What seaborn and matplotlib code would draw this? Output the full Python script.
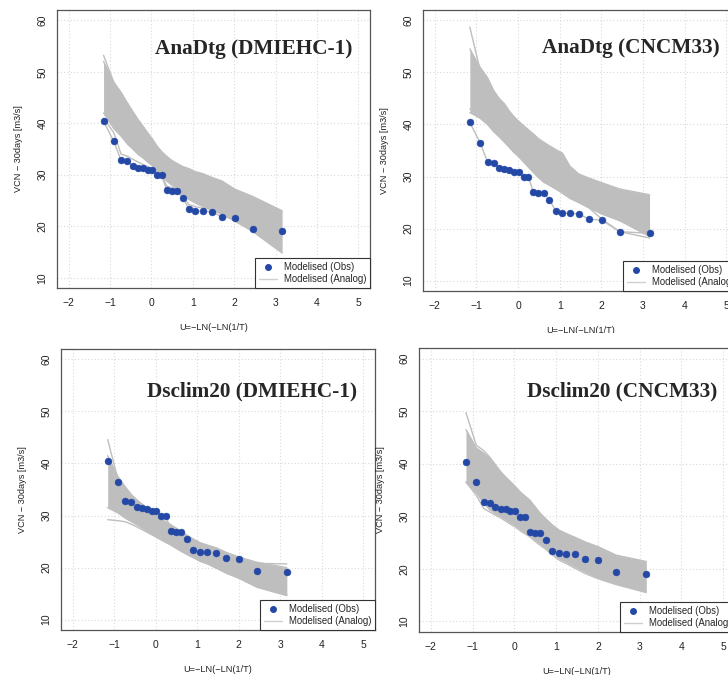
import numpy as np
import pandas as pd
import matplotlib
matplotlib.use("Agg")
import matplotlib.pyplot as plt
from matplotlib.patches import Rectangle
from matplotlib.lines import Line2D
import seaborn as sns

# ---------------- data ----------------
u_pos = [-1.156, -0.910, -0.732, -0.583, -0.450, -0.327, -0.209, -0.094, 0.019, 0.133,
         0.248, 0.367, 0.489, 0.618, 0.755, 0.903, 1.065, 1.246, 1.454, 1.702,
         2.013, 2.442, 3.157]
obs_vcn = [40.4, 36.5, 32.8, 32.6, 31.7, 31.4, 31.3, 30.95, 30.95, 29.9,
           29.9, 27.1, 26.9, 26.8, 25.55, 23.4, 23.0, 22.9, 22.85, 21.8,
           21.6, 19.4, 19.1]

titles = ["AnaDtg (DMIEHC-1)", "AnaDtg (CNCM33)", "Dsclim20 (DMIEHC-1)", "Dsclim20 (CNCM33)"]
title_y = [53.4, 53.7, 52.9, 52.8]

x_ticks = [-2, -1, 0, 1, 2, 3, 4, 5]
y_ticks = [10, 20, 30, 40, 50, 60]
legend_labels = ["Modelised (Obs)", "Modelised (Analog)"]
x_label = "U=\u2212LN(\u2212LN(1/T)"
y_label = "VCN \u2212 30days [m3/s]"

# Analog ensemble: upper / lower envelopes and individual members
hi1 = [52.0, 48.0, 46.0, 44.0, 42.3, 40.8, 39.5, 38.2, 37.0, 35.6, 34.5, 33.6, 32.8, 32.2,
       31.6, 31.2, 30.6, 30.2, 29.5, 28.8, 27.2, 25.8, 23.0]
lo1 = [42.0, 39.0, 37.5, 36.0, 35.0, 34.0, 33.3, 32.5, 31.8, 30.8, 30.0, 28.8, 28.0, 27.3,
       26.3, 25.2, 24.5, 23.8, 23.2, 22.3, 21.0, 19.0, 14.8]
m1a = [53.2, 48.0, 45.5, 43.8, 42.0, 40.5, 39.2, 38.0, 36.8, 35.5, 34.3, 33.4, 32.6, 32.0,
       31.4, 31.0, 30.4, 30.0, 29.4, 28.6, 27.0, 25.6, 22.8]
m1b = [41.0, 38.2, 34.0, 33.6, 33.0, 32.5, 32.0, 31.6, 31.2, 30.5, 30.0, 27.8, 27.5, 27.2,
       26.0, 24.2, 23.8, 23.5, 23.3, 22.6, 21.8, 19.8, 15.8]

hi2 = [54.5, 51.0, 49.0, 46.5, 45.0, 44.0, 42.6, 41.5, 40.6, 39.8, 39.0, 38.2, 37.3, 36.6,
       35.9, 35.2, 34.5, 32.0, 30.5, 29.7, 28.8, 27.6, 26.5]
lo2 = [42.3, 41.2, 40.0, 38.6, 37.6, 36.6, 35.6, 34.6, 33.8, 32.8, 31.8, 30.8, 29.8, 28.9,
       28.3, 27.6, 26.8, 25.8, 25.0, 24.0, 22.8, 21.5, 18.5]
m2a = [58.7, 50.5, 48.0, 46.0, 44.5, 43.5, 42.2, 41.0, 40.2, 39.4, 38.5, 37.8, 36.9, 36.2,
       35.5, 34.8, 34.2, 31.5, 30.2, 29.4, 28.5, 27.3, 26.2]
m2b = [43.0, 41.5, 40.2, 39.0, 38.0, 37.0, 36.0, 35.0, 34.2, 33.2, 32.2, 31.2, 30.2, 29.3,
       28.6, 27.8, 27.0, 26.0, 25.2, 24.0, 21.8, 19.4, 18.2]

hi3 = [41.5, 37.5, 35.5, 34.0, 33.0, 32.2, 31.4, 30.6, 30.0, 29.3, 28.8, 28.2, 27.6, 26.9,
       26.2, 25.5, 24.8, 24.3, 23.8, 22.9, 22.0, 21.0, 20.0]
lo3 = [31.5, 30.5, 29.5, 28.8, 28.2, 27.6, 27.0, 26.5, 26.0, 25.4, 24.9, 24.4, 23.8, 23.2,
       22.6, 22.0, 21.3, 20.8, 20.0, 19.0, 18.0, 16.3, 14.8]
m3a = [44.6, 37.0, 35.2, 33.8, 32.8, 32.0, 31.2, 30.5, 29.9, 29.2, 28.7, 28.1, 27.5, 26.8,
       26.1, 25.4, 24.7, 24.2, 23.7, 22.8, 21.1, 20.8, 20.7]
m3b = [29.2, 29.0, 28.8, 28.3, 27.8, 27.3, 26.8, 26.3, 25.8, 25.3, 24.8, 24.3, 23.7, 23.1,
       22.5, 21.9, 21.2, 20.7, 19.9, 18.9, 17.9, 16.2, 14.6]

hi4 = [46.5, 43.0, 42.0, 41.0, 39.5, 38.3, 37.3, 36.5, 35.6, 34.6, 33.8, 33.0, 31.8, 30.5,
       29.4, 28.3, 27.3, 26.6, 25.9, 25.0, 24.0, 22.5, 21.3]
lo4 = [36.5, 34.5, 32.5, 31.2, 30.5, 30.0, 29.4, 28.8, 28.3, 27.6, 27.0, 26.4, 25.6, 24.8,
       24.0, 23.0, 22.0, 21.3, 20.4, 19.4, 18.3, 17.2, 15.7]
m4a = [49.7, 43.5, 42.5, 41.2, 39.8, 38.5, 37.5, 36.6, 35.7, 34.7, 33.9, 33.1, 31.9, 30.6,
       29.5, 28.4, 27.4, 26.7, 26.0, 25.1, 24.2, 22.6, 21.4]
m4b = [36.5, 34.0, 31.5, 30.8, 30.2, 29.7, 29.1, 28.5, 28.0, 27.3, 26.7, 26.1, 25.3, 24.5,
       23.7, 22.7, 21.7, 21.0, 20.1, 19.1, 18.1, 17.0, 15.5]

upper = [hi1, hi2, hi3, hi4]
lower = [lo1, lo2, lo3, lo4]
members = [[hi1, lo1, m1a, m1b], [hi2, lo2, m2a, m2b], [hi3, lo3, m3a, m3b], [hi4, lo4, m4a, m4b]]

# ---------------- style ----------------
sns.set_style("white")
plt.rcParams["font.family"] = ["Liberation Sans", "DejaVu Sans"]

GREY = "#BEBEBE"
BLUE = "#2448A6"
FRAME = "#555555"

W, H = 728, 675
# axes boxes in pixels: left, top, right, bottom
boxes = [(57, 10, 370, 288), (423, 10, 738, 291), (61, 349, 375, 630), (419, 348, 735, 632)]

fig = plt.figure(figsize=(W / 100, H / 100), dpi=100)

axes = []
for i, (l, t, r, b) in enumerate(boxes):
    ax = fig.add_axes([l / W, 1 - b / H, (r - l) / W, (b - t) / H])
    ax.set_zorder(1 if i == 3 else 0)
    axes.append(ax)

for i, ax in enumerate(axes):
    ax.set_facecolor("white")
    # grid
    for xv in x_ticks:
        ax.axvline(xv, color="#DADADA", lw=0.8, ls=(0, (1, 2)), zorder=0)
    for yv in y_ticks:
        ax.axhline(yv, color="#DADADA", lw=0.8, ls=(0, (1, 2)), zorder=0)

    # ensemble band
    ax.fill_between(u_pos, lower[i], upper[i], color=GREY, lw=0, zorder=1)
    mem = members[i]
    df = pd.DataFrame({
        "u": np.tile(u_pos, len(mem)),
        "vcn": np.concatenate(mem),
        "member": np.repeat(np.arange(len(mem)), len(u_pos)),
    })
    sns.lineplot(data=df, x="u", y="vcn", units="member", estimator=None, sort=False,
                 color=GREY, lw=1.0, ax=ax, legend=False, zorder=2)

    # observations
    ax.plot(u_pos, obs_vcn, color=GREY, lw=1.0, zorder=3)
    sns.scatterplot(x=u_pos, y=obs_vcn, color=BLUE, s=25, edgecolor=BLUE, linewidth=0.3,
                    ax=ax, zorder=4, legend=False)

    ax.set_xlim(-2.28, 5.28)
    ax.set_ylim(8.0, 62.0)
    ax.set_xticks(x_ticks)
    ax.set_yticks(y_ticks)
    ax.tick_params(direction="out", length=4, width=0.8, color=FRAME, labelsize=7.5,
                   pad=3, labelcolor="#222222")
    ax.tick_params(axis="y", labelrotation=90)
    for lbl in ax.get_yticklabels():
        lbl.set_va("center")
    for sp in ax.spines.values():
        sp.set_visible(True)
        sp.set_color(FRAME)
        sp.set_linewidth(0.9)
    ax.grid(False)

    ax.set_xlabel(x_label, fontsize=6.6, labelpad=11, color="#222222")
    ax.set_ylabel(y_label, fontsize=6.6, labelpad=10, color="#222222")

    ax.text(4.85, title_y[i], titles[i], ha="right", va="baseline", fontsize=15.3,
            fontweight="bold", family=["Liberation Serif", "DejaVu Serif"], zorder=6)

    handles = [Line2D([], [], marker="o", ls="", color=BLUE, ms=4.0),
               Line2D([], [], color="#D0D0D0", lw=1.0)]
    leg = ax.legend(handles, legend_labels, loc="lower right", bbox_to_anchor=(1, 0),
                    borderaxespad=0, fontsize=6.9, frameon=True, fancybox=False,
                    borderpad=0.4, labelspacing=0.2, handlelength=1.9,
                    handletextpad=0.7)
    leg.get_frame().set_edgecolor("#333333")
    leg.get_frame().set_linewidth(0.8)
    leg.get_frame().set_facecolor("white")
    leg.get_frame().set_alpha(1)
    leg.set_zorder(7)

# the lower-right picture overlaps the bottom of the upper-right one
fig.add_artist(Rectangle((385 / W, 0), 1, 1 - 333 / H, transform=fig.transFigure,
                         facecolor="white", edgecolor="none", zorder=0.5))

fig.savefig("out.png", dpi=100)
